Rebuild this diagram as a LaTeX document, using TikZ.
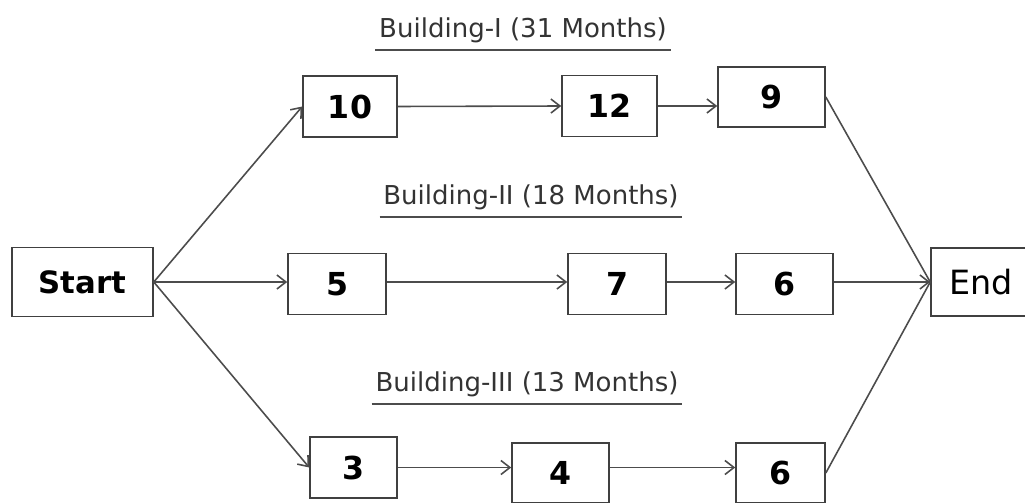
\documentclass[tikz,border=0pt]{standalone}
\usepackage{fontspec}
\setmainfont{DejaVu Sans}
\usetikzlibrary{arrows.meta}
\begin{document}
\begin{tikzpicture}[
    box/.style={draw=black!75, line width=0.9pt, minimum height=1.22cm, inner sep=0pt},
    num/.style={box, font=\fontsize{18}{20}\selectfont\bfseries},
    title/.style={font=\fontsize{14.8}{16}\selectfont, text=black!80, inner xsep=2pt, inner ysep=4pt},
    link/.style={draw=black!70, line width=0.9pt, >={Straight Barb[length=1.8mm, width=2.8mm]}}
]
    \useasboundingbox (0,0) rectangle (20.5,10.04);
    % start and end
    \node[box, minimum width=2.82cm, minimum height=1.38cm, font=\fontsize{17.5}{20}\selectfont\bfseries] (start) at (1.65,4.40) {Start};
    \node[box, minimum width=2.1cm, minimum height=1.36cm, font=\fontsize{19}{21}\selectfont] (end) at (19.67,4.40) {\hspace*{-0.1cm}End};
    % first row
    \node[title] (t1) at (10.46,9.44) {Building-I (31 Months)};
    \node[num, minimum width=1.88cm] (n10) at (7.00,7.91) {10};
    \node[num, minimum width=1.90cm] (n12) at (12.19,7.92) {12};
    \node[num, minimum width=2.14cm, minimum height=1.20cm] (n9) at (15.43,8.10) {9};
    % second row
    \node[title] (t2) at (10.62,6.10) {Building-II (18 Months)};
    \node[num, minimum width=1.96cm] (n5) at (6.74,4.36) {5};
    \node[num, minimum width=1.96cm] (n7) at (12.34,4.36) {7};
    \node[num, minimum width=1.94cm] (n6) at (15.69,4.36) {6};
    % third row
    \node[title] (t3) at (10.54,2.36) {Building-III (13 Months)};
    \node[num, minimum width=1.74cm] (n3) at (7.07,0.69) {3};
    \node[num, minimum width=1.94cm, minimum height=1.20cm] (n4) at (11.21,0.58) {4};
    \node[num, minimum width=1.78cm, minimum height=1.20cm] (n6b) at (15.61,0.58) {6};
    % underlines
    \draw[black!70, line width=1.1pt] (t1.south west) -- (t1.south east);
    \draw[black!70, line width=1.1pt] (t2.south west) -- (t2.south east);
    \draw[black!70, line width=1.1pt] (t3.south west) -- (t3.south east);
    % arrows
    \draw[link, ->] (start.east) -- (n10.west);
    \draw[link, ->] (start.east) -- (n5.west |- start.east);
    \draw[link, ->] (start.east) -- (n3.west);
    \draw[link, ->] (n10.east) -- (n12.west);
    \draw[link, ->] (n12.east) -- (n12.east -| n9.west);
    \draw[link, ->] (n5.east |- start.east) -- (n7.west |- start.east);
    \draw[link, ->] (n7.east |- start.east) -- (n6.west |- start.east);
    \draw[link, ->] (n6.east |- start.east) -- (end.west);
    \draw[link, ->] (n3.east) -- (n3.east -| n4.west);
    \draw[link, ->] (n4.east |- n3.east) -- (n6b.west |- n3.east);
    \draw[link] (n9.east) -- (end.west);
    \draw[link] (n6b.east) -- (end.west);
\end{tikzpicture}
\end{document}
